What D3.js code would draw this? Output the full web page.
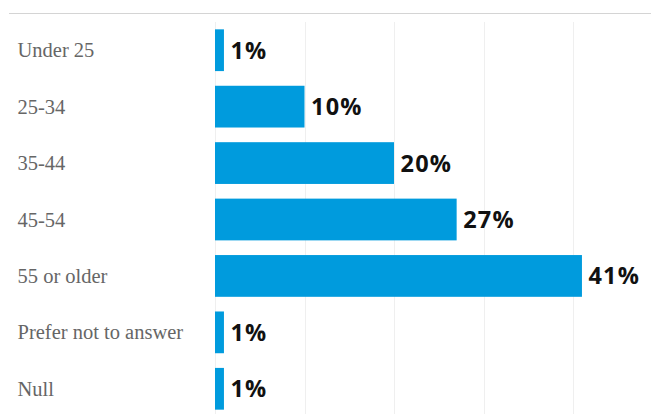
<!DOCTYPE html>
<html>
<head>
<meta charset="utf-8">
<script src="https://cdn.jsdelivr.net/npm/d3@7"></script>
<style>
  html, body { margin: 0; padding: 0; background: #fff; }
  svg { display: block; }
</style>
</head>
<body>
<div id="chart"></div>
<script>
// Age distribution of respondents
const categories = ["Under 25", "25-34", "35-44", "45-54", "55 or older", "Prefer not to answer", "Null"];
const shares = [1, 10, 20, 27, 41, 1, 1];
const gridTicks = [0, 10, 20, 30, 40];

const width = 651, height = 414;
const barLeft = 215;

const svg = d3.select("#chart").append("svg")
  .attr("width", width)
  .attr("height", height);

const x = d3.scaleLinear().domain([0, 40]).range([barLeft, barLeft + 358]);
const y = d3.scaleBand()
  .domain(categories)
  .range([22, 417])
  .paddingInner(0.26)
  .paddingOuter(0.13);

// top rule
svg.append("line")
  .attr("x1", 9).attr("x2", width)
  .attr("y1", 13.5).attr("y2", 13.5)
  .attr("stroke", "#d4d4d4").attr("stroke-width", 1);

// vertical gridlines
svg.append("g")
  .selectAll("line")
  .data(gridTicks)
  .join("line")
  .attr("x1", d => Math.round(x(d)) + 0.5)
  .attr("x2", d => Math.round(x(d)) + 0.5)
  .attr("y1", 22).attr("y2", height)
  .attr("stroke", "#efefef").attr("stroke-width", 1);

const rows = categories.map((c, i) => ({ cat: c, v: shares[i] }));

// bars
svg.append("g")
  .selectAll("rect")
  .data(rows)
  .join("rect")
  .attr("x", x(0))
  .attr("y", d => y(d.cat))
  .attr("width", d => x(d.v) - x(0))
  .attr("height", y.bandwidth())
  .attr("fill", "#009bdd");

// category labels
svg.append("g")
  .selectAll("text")
  .data(rows)
  .join("text")
  .attr("x", 17.5)
  .attr("y", d => y(d.cat) + y.bandwidth() / 2 + 7)
  .attr("font-family", "'Liberation Serif', 'Times New Roman', serif")
  .attr("font-size", 20.5)
  .attr("fill", "#666")
  .text(d => d.cat);

// value labels
svg.append("g")
  .selectAll("text")
  .data(rows)
  .join("text")
  .attr("x", d => x(d.v) + 6.5)
  .attr("y", d => y(d.cat) + y.bandwidth() / 2 + 8.5)
  .attr("font-family", "'Open Sans', sans-serif")
  .attr("font-weight", 700)
  .attr("font-size", 23.5)
  .attr("letter-spacing", 1.2)
  .attr("fill", "#111")
  .text(d => d.v + "%");
</script>
</body>
</html>
